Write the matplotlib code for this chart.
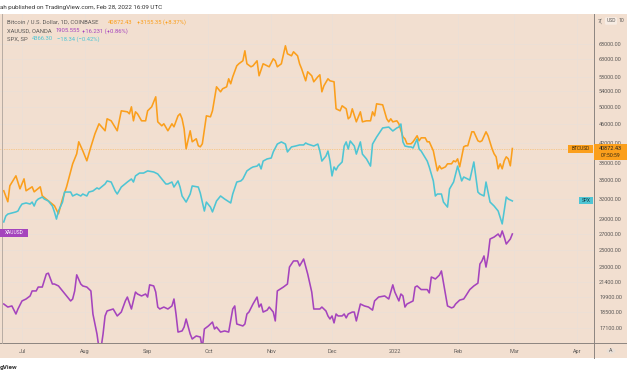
import pandas as pd
import matplotlib
matplotlib.use("Agg")
from matplotlib import pyplot as plt
from matplotlib.patches import Rectangle, Circle
from matplotlib.lines import Line2D
from matplotlib.ticker import NullLocator, FixedLocator

# day offsets from 2021-07-01 and values
btc_days = [-9, -7, -6, -3, -1, 1, 2, 5, 6, 9, 10, 13, 16, 18, 20, 22, 25, 27, 28, 30, 32, 34, 36, 38,
            41, 42, 44, 47, 49, 52, 53, 54, 55, 56, 57, 59, 61, 62, 64, 66, 67, 69, 70, 72, 74, 75, 77, 78,
            79, 80, 81, 83, 84, 86, 87, 88, 89, 91, 93, 94, 96, 98, 99, 101, 102, 103, 104, 106, 107, 109,
            110, 111, 113, 114, 116, 117, 119, 121, 122, 124, 125, 126, 128, 130, 131, 133, 134, 136, 137,
            138, 140, 141, 143, 144, 146, 147, 148, 149, 151, 152, 154, 155, 157, 158, 160, 161, 162, 163,
            165, 167, 168, 170, 172, 173, 174, 175, 178, 180, 181, 182, 183, 185, 186, 188, 189, 190, 192,
            193, 195, 196, 197, 199, 200, 201, 203, 205, 206, 207, 209, 210, 212, 213, 214, 215, 216, 218,
            219, 220, 221, 222, 223, 225, 226, 227, 229, 230, 232, 233, 234, 235, 236, 237, 238, 239, 240,
            241, 242]
btc_close = [33280, 31550, 34100, 35790, 33600, 35270, 33280, 33930, 33110, 33930, 32470, 31700, 30940,
             29760, 32000, 33930, 37940, 39830, 42230, 40420, 38500, 41210, 43900, 46090,
             44550, 47220, 46760, 44550, 49090, 48850, 48380, 50050, 46760, 48850, 48380, 46760, 46760,
             49090, 50050, 52550, 46530, 45640, 46090, 44550, 46090, 45420, 47910, 48380, 47220, 44980,
             40810, 44550, 42230, 42850, 41420, 41210, 41820, 47910, 47680, 49090, 55170, 53840, 54640,
             55170, 57360, 55980, 57920, 61100, 61700, 62600, 65720, 61700, 60800, 61100, 62600, 58200,
             61700, 61100, 60800, 63210, 62600, 60800, 61700, 67340, 64770, 64140, 65400, 64140, 61700,
             60220, 56800, 59340, 58200, 56530, 57920, 58480, 53840, 55440, 57360, 56800, 56530, 49570,
             49090, 50300, 49570, 47220, 47680, 49570, 46530, 48850, 46530, 46760, 46760, 48850, 47910,
             50790, 50540, 47220, 46530, 47220, 46530, 46760, 46090, 43260, 42850, 41820, 41820, 42230,
             43480, 42440, 43050, 43050, 42230, 42230, 40420, 36670, 37570, 37030, 37390, 37940, 37940,
             38500, 38310, 38870, 37390, 41210, 41420, 41420, 42850, 44330, 44330, 42440, 42230, 42440,
             44330, 43480, 40810, 39830, 39250, 37030, 37940, 37030, 38500, 39250, 38870, 37570, 40872.43]

spx_days = [-9, -8, -7, -3, -2, -1, 0, 2, 4, 5, 6, 7, 8, 10, 11, 13, 15, 16, 17, 18, 20, 21, 24, 25, 27,
            29, 30, 32, 33, 35, 37, 38, 41, 42, 44, 46, 47, 49, 52, 54, 55, 56, 58, 60, 62, 65, 67, 69,
            71, 72, 74, 75, 77, 78, 79, 81, 83, 84, 87, 88, 89, 90, 91, 93, 94, 96, 98, 100, 103, 104,
            106, 108, 109, 111, 113, 114, 116, 117, 118, 119, 121, 123, 124, 126, 128, 130, 131, 133,
            135, 137, 139, 140, 141, 144, 146, 147, 148, 150, 151, 152, 153, 154, 155, 156, 158, 159,
            160, 161, 162, 164, 165, 167, 168, 170, 172, 173, 175, 178, 181, 183, 185, 186, 187, 188,
            189, 191, 192, 193, 195, 196, 197, 200, 201, 203, 204, 205, 207, 208, 210, 211, 213, 214,
            215, 217, 218, 220, 221, 223, 225, 226, 228, 229, 231, 233, 235, 237, 239, 240, 242]
spx_close = [4249, 4282, 4293, 4305, 4310, 4332, 4349, 4355, 4349, 4360, 4338, 4366, 4377, 4388, 4377,
             4366, 4338, 4305, 4265, 4310, 4360, 4416, 4416, 4394, 4405, 4394, 4405, 4394, 4416, 4422,
             4439, 4433, 4461, 4478, 4472, 4422, 4405, 4444, 4472, 4489, 4472, 4506, 4522, 4522, 4534,
             4528, 4517, 4489, 4461, 4461, 4472, 4444, 4478, 4444, 4394, 4360, 4405, 4450, 4444, 4410,
             4360, 4310, 4360, 4332, 4305, 4366, 4394, 4377, 4355, 4405, 4472, 4478, 4489, 4534, 4550,
             4556, 4561, 4573, 4545, 4589, 4601, 4606, 4640, 4684, 4696, 4684, 4640, 4668, 4673, 4679,
             4679, 4690, 4684, 4673, 4684, 4645, 4589, 4617, 4645, 4589, 4506, 4556, 4539, 4561, 4584,
             4673, 4696, 4656, 4701, 4673, 4628, 4696, 4628, 4601, 4561, 4684, 4723, 4774, 4779, 4757,
             4774, 4779, 4796, 4696, 4673, 4668, 4668, 4662, 4712, 4656, 4645, 4589, 4556, 4478, 4394,
             4405, 4405, 4360, 4332, 4433, 4472, 4517, 4561, 4478, 4500, 4489, 4483, 4584, 4416, 4405,
             4394, 4472, 4360, 4338, 4310, 4238, 4388, 4377, 4366.30]

gold_days = [-9, -7, -5, -3, -2, 0, 2, 4, 5, 7, 8, 10, 12, 13, 15, 16, 18, 20, 22, 24, 25, 26, 27, 29,
             30, 32, 34, 35, 37, 38, 39, 40, 41, 42, 45, 47, 49, 51, 52, 54, 56, 57, 59, 61, 62, 63, 65,
             66, 67, 68, 70, 72, 74, 75, 76, 77, 79, 80, 81, 83, 84, 86, 88, 89, 90, 92, 94, 95, 96, 98,
             100, 102, 104, 105, 106, 109, 110, 111, 112, 114, 116, 117, 118, 119, 121, 122, 124, 125,
             126, 129, 131, 132, 134, 136, 137, 139, 141, 143, 144, 147, 148, 150, 151, 152, 153, 154,
             155, 156, 158, 159, 160, 161, 163, 164, 165, 167, 169, 171, 173, 174, 176, 179, 181, 183,
             184, 186, 187, 188, 189, 190, 193, 194, 195, 197, 199, 200, 201, 202, 203, 204, 206, 207,
             209, 210, 212, 213, 214, 216, 218, 219, 221, 223, 225, 226, 227, 228, 229, 230, 231, 233,
             235, 236, 237, 238, 239, 241, 242]
gold_close = [1779.5, 1774, 1776, 1761.5, 1770.5, 1785, 1788.5, 1794, 1803, 1803, 1810, 1810, 1833.5,
              1835, 1815.5, 1815.5, 1812, 1803, 1794, 1785, 1788.5, 1803, 1832, 1815.5, 1812, 1810, 1803,
              1761.5, 1725.5, 1700, 1700, 1725.5, 1758, 1767, 1770.5, 1758, 1765, 1785, 1792, 1770.5,
              1801, 1797.5, 1794, 1797.5, 1792, 1814, 1812, 1801, 1774, 1770.5, 1774, 1770.5, 1776,
              1788.5, 1761.5, 1729, 1731, 1738, 1752.5, 1725.5, 1716.5, 1722, 1720, 1700, 1734.5, 1740,
              1747, 1734.5, 1738, 1729, 1731, 1729, 1770.5, 1776, 1743.5, 1740, 1743.5, 1761.5, 1765,
              1779.5, 1792, 1774, 1779.5, 1765, 1768.5, 1774, 1765, 1749, 1803, 1810, 1815.5, 1846, 1857,
              1857, 1848, 1860.5, 1833.5, 1801, 1770.5, 1770.5, 1774, 1767, 1758, 1752.5, 1758, 1745.5,
              1761.5, 1758, 1758, 1761.5, 1754.5, 1761.5, 1765, 1765, 1749, 1779.5, 1776, 1774, 1768.5,
              1785, 1792, 1794, 1788.5, 1814, 1801, 1785, 1797.5, 1794, 1774, 1779.5, 1785, 1810, 1812,
              1805.5, 1805.5, 1805.5, 1799.5, 1828, 1826.5, 1824.5, 1831.5, 1839, 1797.5, 1776, 1772.5,
              1774, 1779.5, 1786.5, 1788.5, 1794, 1805.5, 1812, 1817, 1851.5, 1857, 1866, 1846, 1866,
              1896.5, 1900, 1905.5, 1900, 1911, 1900, 1887.5, 1896.5, 1905.555]

price_ticks = [68000, 63000, 58000, 54000, 50000, 46000, 42000, 38000, 35000, 32000, 29000, 27000,
               25000, 23000, 21400, 19900, 18500, 17100]
month_labels = ["Jul", "Aug", "Sep", "Oct", "Nov", "Dec", "2022", "Feb", "Mar", "Apr"]

W, H = 627, 376
peach = "#f2dfd0"
grid_c = "#ebe0d7"
txt_c = "#5d5a58"
btc_c = "#fb9f1c"
spx_c = "#4ec5d4"
gold_c = "#a544bd"
FONT = "Roboto"


def fx(x):
    return x / W


def fy(y):
    return 1 - y / H


start = pd.Timestamp("2021-07-01")
btc_dates = start + pd.to_timedelta(btc_days, unit="D")
spx_dates = start + pd.to_timedelta(spx_days, unit="D")
gold_dates = start + pd.to_timedelta(gold_days, unit="D")
month_ticks = pd.date_range("2021-07-01", periods=10, freq="MS")

fig = plt.figure(figsize=(W / 100, H / 100), dpi=100, facecolor="white")
fig.add_artist(Rectangle((0, fy(358)), 1, (358 - 14) / H, transform=fig.transFigure,
                         facecolor=peach, edgecolor="none", zorder=0))

ax = fig.add_axes([0, fy(343), 594 / W, (343 - 14) / H])
ax.set_facecolor(peach)
ax_gold = ax.twinx()
ax_spx = ax.twinx()

ax.plot(btc_dates, btc_close, color=btc_c, lw=1.15, zorder=3)
ax_spx.plot(spx_dates, spx_close, color=spx_c, lw=1.15)
ax_gold.plot(gold_dates, gold_close, color=gold_c, lw=1.15)

ax.set_yscale("log")
ax.set_ylim(15880, 78590)
ax_gold.set_ylim(1709.3, 2301.5)
ax_spx.set_ylim(3572.9, 5410.4)
ax.set_xlim(start - pd.Timedelta(days=10.86), start + pd.Timedelta(days=282.3))

ax.yaxis.set_major_locator(FixedLocator(price_ticks))
ax.yaxis.set_minor_locator(NullLocator())
ax.yaxis.tick_right()
ax.set_yticklabels(["%.2f" % v for v in price_ticks], fontsize=4.0, color=txt_c, family=FONT)
ax.tick_params(axis="y", length=0, pad=3.6)
ax.set_xticks(month_ticks)
ax.set_xticklabels(month_labels, fontsize=4.0, color=txt_c, family=FONT)
ax.tick_params(axis="x", length=0, pad=4.5)
ax.grid(True, color=grid_c, lw=0.6)
ax.axhline(40872.43, color=btc_c, lw=0.5, ls=(0, (1, 1.5)), alpha=0.7)

for a in (ax, ax_gold, ax_spx):
    for s in a.spines.values():
        s.set_visible(False)
for a in (ax_gold, ax_spx):
    a.set_yticks([])
    a.patch.set_visible(False)

# frame lines
fig.add_artist(Line2D([fx(594), fx(594)], [fy(14), fy(358)], color="#8c8580", lw=0.7))
fig.add_artist(Line2D([0, 1], [fy(343), fy(343)], color="#8c8580", lw=0.7))
fig.add_artist(Line2D([fx(2), fx(2)], [fy(14), fy(343)], color="#b8aca3", lw=0.7))


def box(x0, y0, x1, y1, color):
    fig.add_artist(Rectangle((fx(x0), fy(y1)), (x1 - x0) / W, (y1 - y0) / H,
                             transform=fig.transFigure, facecolor=color, edgecolor="none", zorder=5))


def label(x, y, s, color, size=3.8, ha="left", weight="normal"):
    fig.text(fx(x), fy(y), s, color=color, fontsize=size, ha=ha, va="center",
             family=FONT, fontweight=weight, zorder=6)


# last value tags
box(568, 145, 593, 153, btc_c)
label(580.5, 149, "BTCUSD", "#3a2a10", 3.5, ha="center")
box(594, 144, 627, 160, btc_c)
label(610.5, 148.5, "40872.43", "#222222", 4.0, ha="center")
label(610.5, 155.5, "07:50:59", "#3a2a10", 3.7, ha="center")
box(579, 197, 593, 204, spx_c)
label(586, 200.5, "SPX", "#1a3a40", 3.5, ha="center")
box(0, 229, 28, 237, gold_c)
label(14, 233, "XAUUSD", "white", 3.5, ha="center")

# legend
label(7, 22, "Bitcoin / U.S. Dollar, 1D, COINBASE", txt_c, 4.2)
label(108, 22, "40872.43", btc_c, 4.2)
label(137, 22, "+3155.35 (+8.37%)", btc_c, 4.2)
label(7, 31, "XAUUSD, OANDA", txt_c, 4.2)
label(56, 31, "1905.555", gold_c, 4.2)
label(82, 31, "+16.231 (+0.86%)", gold_c, 4.2)
label(7, 39, "SPX, SP", txt_c, 4.2)
label(32, 39, "4366.30", spx_c, 4.2)
label(57, 39, "\u221218.34 (\u22120.42%)", spx_c, 4.2)

# header / footer
label(0, 7, "ah published on TradingView.com, Feb 28, 2022 16:09 UTC", "#333333", 4.5)
label(0, 368, "gView", "#333333", 4.6, weight="bold")

# top-right currency button and bottom-right auto button
label(598, 21, "7(", txt_c, 3.8)
fig.text(fx(611), fy(21), "USD", color=txt_c, fontsize=3.6, ha="center", va="center", family=FONT,
         bbox=dict(boxstyle="round,pad=0.25", facecolor="#f7ece3", edgecolor="none"), zorder=6)
label(619, 21, "10", txt_c, 3.8)
fig.add_artist(Circle((fx(611), fy(351)), 4.5 / W, transform=fig.transFigure,
                      facecolor="#e9dfd7", edgecolor="none", zorder=5))
label(611, 351, "A", txt_c, 3.8, ha="center")

fig.savefig("out.png", dpi=100, facecolor="white")
